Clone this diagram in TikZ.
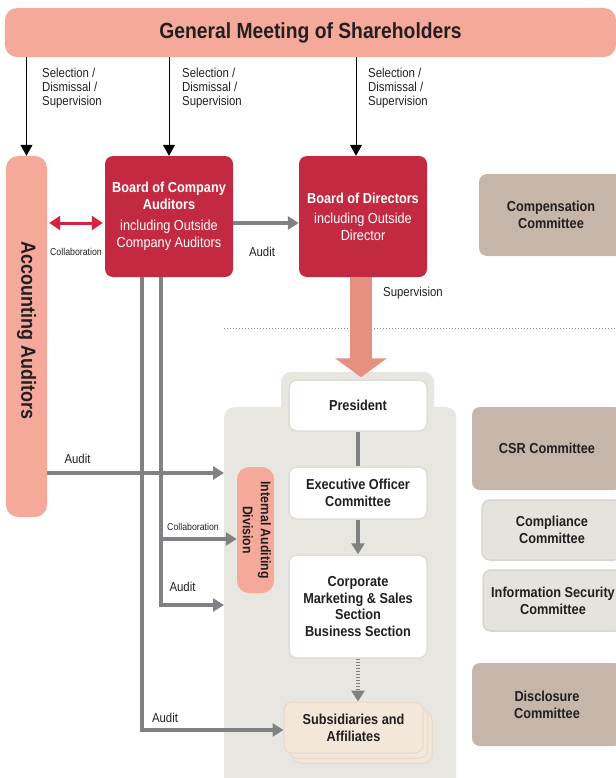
\documentclass[tikz,border=0pt]{standalone}
\usepackage{fontspec}
\setmainfont{Liberation Sans}[FakeStretch=0.88]
\usetikzlibrary{arrows.meta}
\definecolor{salmon}{HTML}{F5A99A}
\definecolor{supcol}{HTML}{E6907F}
\definecolor{boardred}{HTML}{C32A42}
\definecolor{collred}{HTML}{D62340}
\definecolor{conngray}{HTML}{808184}
\definecolor{taupe}{HTML}{C6B6A9}
\definecolor{lightcom}{HTML}{E4E3DD}
\definecolor{lightbord}{HTML}{D6D5CE}
\definecolor{wbord}{HTML}{DEDDD6}
\definecolor{bgregion}{HTML}{E7E6E0}
\definecolor{subsfill}{HTML}{F3E7DA}
\definecolor{subsbord}{HTML}{E6D9CB}
\definecolor{txt}{HTML}{231F20}
\begin{document}
\begin{tikzpicture}[x=1bp,y=-1bp,
  every node/.style={text=txt},
  basebox/.style={rounded corners=8bp, inner sep=0pt, align=center},
  boardbox/.style={basebox, fill=boardred, text=white, font=\fontsize{14.5}{17}\selectfont, minimum width=128bp, minimum height=121bp},
  whitebox/.style={basebox, fill=white, draw=wbord, line width=1.5bp, font=\fontsize{14.5}{17}\selectfont\bfseries, minimum width=138bp},
  taupebox/.style={basebox, fill=taupe, font=\fontsize{14.5}{17}\selectfont\bfseries},
  lightbox/.style={basebox, fill=lightcom, draw=lightbord, line width=1.5bp, font=\fontsize{14.5}{17}\selectfont\bfseries},
  subsbox/.style={basebox, fill=subsfill, draw=subsbord, line width=1bp, font=\fontsize{14.5}{17}\selectfont\bfseries, minimum width=139bp, minimum height=51bp},
  pillbox/.style={basebox, fill=salmon, rounded corners=12bp},
  blackarrow/.style={draw=black, line width=1bp, -{Triangle[length=11bp 0 0,width=12bp 0 0]}},
  grayline/.style={draw=conngray, line width=3.2bp},
  grayarrow/.style={grayline, -{Triangle[length=11bp 0 0,width=13bp 0 0]}},
  redarrow/.style={draw=collred, line width=3bp, {Triangle[length=11bp 0 0,width=14bp 0 0]}-{Triangle[length=11bp 0 0,width=14bp 0 0]}},
  suparrow/.style={draw=supcol, line width=22bp, -{Triangle[length=19bp 0 0,width=51bp 0 0]}},
  smalllabel/.style={font=\fontsize{13}{14}\selectfont, align=left, inner sep=0pt},
  midlabel/.style={font=\fontsize{13}{14}\selectfont, inner sep=0pt},
  tinylabel/.style={font=\fontsize{10}{12}\selectfont, inner sep=0pt},
]
\useasboundingbox (0,0) rectangle (616,778);
\clip (0,0) rectangle (616,778);

% level helpers
\coordinate (lvA) at (0,223);
\coordinate (lvB) at (0,473);
\coordinate (lvC) at (0,539);
\coordinate (lvD) at (0,605);
\coordinate (lvE) at (0,730);
\coordinate (colA) at (142,0);
\coordinate (colB) at (161,0);

% background region
\fill[bgregion, rounded corners=10bp] (281,372) rectangle (434,425);
\node[basebox, fill=bgregion, rounded corners=10bp, minimum width=232bp, minimum height=400bp, anchor=north west] (bgmain) at (224,407) {};

% dotted separator
\draw[conngray, line width=0.8bp, dash pattern=on 1.2bp off 1.8bp] (224,328) -- (616,328);

% top bar
\node[pillbox, minimum width=611bp, minimum height=49bp, font=\fontsize{22}{24}\selectfont\bfseries] (gms) at (310.5,32.5) {General Meeting of Shareholders};

% left column
\node[pillbox, minimum width=41bp, minimum height=361bp] (acc) at (26.5,336.5) {\rotatebox{-90}{\fontsize{20.5}{22}\selectfont\bfseries Accounting Auditors\hspace{12bp}}};

% boards
\node[boardbox] (boca) at (169,216.5) {\textbf{Board of Company}\\\textbf{Auditors}\\[4bp]including Outside\\Company Auditors};
\node[boardbox] (bod) at (363,216.5) {\textbf{Board of Directors}\\[3bp]including Outside\\Director};

% committees
\node[taupebox, minimum width=144bp, minimum height=82bp] (comp) at (551,215) {Compensation\\Committee};
\node[taupebox, minimum width=150bp, minimum height=83bp] (csr) at (547,448.5) {CSR Committee};
\node[lightbox, minimum width=140bp, minimum height=60bp] (compl) at (552,530) {Compliance\\Committee};
\node[lightbox, minimum width=140bp, minimum height=61bp] (infosec) at (553,600.5) {Information Security\\Committee};
\node[taupebox, minimum width=150bp, minimum height=83bp] (disc) at (547,704.5) {Disclosure\\Committee};

% executive chain
\node[whitebox, minimum height=51bp] (pres) at (358,405.5) {President};
\node[whitebox, minimum height=52bp] (eoc) at (358,493) {Executive Officer\\Committee};
\node[whitebox, minimum height=103bp] (cms) at (358,606.5) {Corporate\\Marketing \& Sales\\Section\\Business Section};
\node[subsbox] (subsb) at (362.5,737.5) {};
\node[subsbox] (subsa) at (358,732.5) {};
\node[subsbox] (subs) at (353.5,727.5) {Subsidiaries and\\Affiliates};

% internal auditing
\node[pillbox, minimum width=37bp, minimum height=126bp] (iad) at (255.5,530) {\rotatebox{-90}{\fontsize{14}{18}\selectfont\bfseries\begin{tabular}{@{}c@{}}Internal Auditing\\Division\end{tabular}}};

% supervision arrow
\coordinate (supin) at ([xshift=-2bp]bod.south);
\draw[suparrow] (supin) -- ([yshift=2bp]supin |- pres.north);
\node[midlabel, anchor=west] (lsup) at (383,293) {Supervision};

% selection arrows
\coordinate (bodin) at ([xshift=-7bp]bod.north);
\draw[blackarrow] (gms.south -| acc.north) -- (acc.north);
\draw[blackarrow] (gms.south -| boca.north) -- (boca.north);
\draw[blackarrow] (bodin |- gms.south) -- (bodin);
\node[smalllabel, anchor=north west] (ls1) at (42,68) {Selection /\\Dismissal /\\Supervision};
\node[smalllabel, anchor=north west] (ls2) at (182,68) {Selection /\\Dismissal /\\Supervision};
\node[smalllabel, anchor=north west] (ls3) at (368,68) {Selection /\\Dismissal /\\Supervision};

% collaboration & audit between boards
\draw[redarrow, shorten <=2bp, shorten >=2bp] (acc.east |- lvA) -- (boca.west |- lvA);
\node[tinylabel] (lc1) at (76,252) {Collaboration};
\draw[grayarrow] (boca.east |- lvA) -- (bod.west |- lvA);
\node[midlabel] (la1) at (262,252) {Audit};

% audit lines
\draw[grayarrow] (acc.east |- lvB) -- (bgmain.west |- lvB);
\node[midlabel] (la2) at (77.5,459) {Audit};
\draw[grayarrow] (boca.south -| colA) |- (subs.west |- lvE);
\node[midlabel] (la4) at (165,718) {Audit};
\draw[grayarrow] (boca.south -| colB) |- (bgmain.west |- lvD);
\node[midlabel] (la3) at (182.5,587) {Audit};
\draw[grayarrow] (colB |- lvC) -- (iad.west |- lvC);
\node[tinylabel] (lc2) at (193,527) {Collaboration};

% executive chain connectors
\draw[grayline] (pres.south) -- (eoc.north);
\draw[grayarrow] (eoc.south) -- (cms.north);
\draw[grayarrow, line width=4bp, dash pattern=on 1.5bp off 1.5bp] (cms.south) -- (cms.south |- subs.north);
\end{tikzpicture}
\end{document}
